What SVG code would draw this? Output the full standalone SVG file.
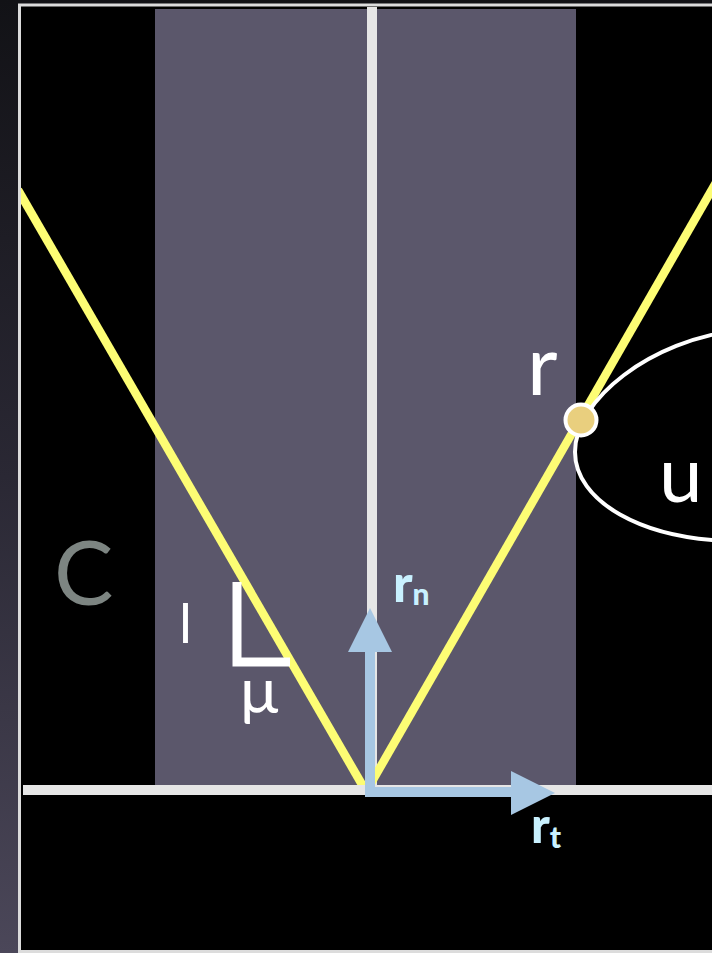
<svg xmlns="http://www.w3.org/2000/svg" width="712" height="953" viewBox="0 0 712 953">
  <defs>
    <linearGradient id="bg" x1="0" y1="0" x2="0" y2="1">
      <stop offset="0" stop-color="#121216"/>
      <stop offset="0.5" stop-color="#2a2834"/>
      <stop offset="1" stop-color="#4b4759"/>
    </linearGradient>
    <clipPath id="frame">
      <rect x="21" y="7" width="700" height="943"/>
    </clipPath>
    <style>
      .lbl { font-family: Lato, "Open Sans", "DejaVu Sans", sans-serif; fill: #ffffff; }
      .vec { font-family: Lato, "Open Sans", "DejaVu Sans", sans-serif; font-weight: 900; fill: #c9f1ff; }
      .ray { stroke: #fdfd74; stroke-width: 8.5; fill: none; }
      .blue { stroke: #a7c7e3; stroke-width: 10; fill: none; }
      .head { fill: #a7c7e3; }
    </style>
  </defs>

  <!-- background and frame -->
  <rect x="0" y="0" width="712" height="953" fill="url(#bg)"/>
  <rect x="19.5" y="5" width="720" height="946.5" fill="#000000" stroke="#dcdcdc" stroke-width="3"/>

  <!-- region band -->
  <rect id="band" x="155" y="9" width="421" height="776" fill="#5b576b"/>

  <!-- normal (vertical) line -->
  <line id="normal" x1="372" y1="7" x2="372" y2="790" stroke="#e6e6e6" stroke-width="10"/>

  <!-- rays -->
  <g id="rays" clip-path="url(#frame)">
    <line class="ray" x1="18" y1="190" x2="364" y2="788"/>
    <line class="ray" x1="366" y1="792" x2="722" y2="172"/>
  </g>

  <!-- surface -->
  <line id="surface" x1="23" y1="790" x2="712" y2="790" stroke="#e6e6e6" stroke-width="10"/>

  <!-- ellipse u -->
  <g id="u-region">
    <path d="M 740 330 C 650 340, 575 400, 575 452 C 575 500, 640 541, 740 541" fill="none" stroke="#ffffff" stroke-width="4"/>
    <text class="lbl" x="659" y="502" font-size="78">u</text>
  </g>

  <!-- point r -->
  <g id="point-r">
    <circle cx="581" cy="420" r="15.5" fill="#e9cf7e" stroke="#ffffff" stroke-width="4"/>
    <text class="lbl" x="527" y="395" font-size="84">r</text>
  </g>

  <!-- C label -->
  <g id="label-C">
    <text x="54" y="605" font-size="89" font-family="Lato, 'Open Sans', 'DejaVu Sans', sans-serif" fill="#7d8582">C</text>
  </g>

  <!-- angle mark -->
  <g id="angle">
    <path d="M 237 582 V 662 H 290" fill="none" stroke="#ffffff" stroke-width="9"/>
    <text class="lbl" x="179" y="643" font-size="55">l</text>
    <text class="lbl" x="240" y="713" font-size="64">μ</text>
  </g>

  <!-- connectors: basis vectors -->
  <g id="vectors">
    <path class="blue" d="M 370 650 V 792 H 512"/>
    <polygon class="head" points="348,652 392,652 370,608"/>
    <polygon class="head" points="511,771 511,815 555,793"/>
  </g>

  <g id="label-rn">
    <text class="vec" x="393" y="602" font-size="52">r<tspan font-size="30" dy="3">n</tspan></text>
  </g>
  <g id="label-rt">
    <text class="vec" x="531" y="843" font-size="50">r<tspan font-size="30" dy="5">t</tspan></text>
  </g>
</svg>
